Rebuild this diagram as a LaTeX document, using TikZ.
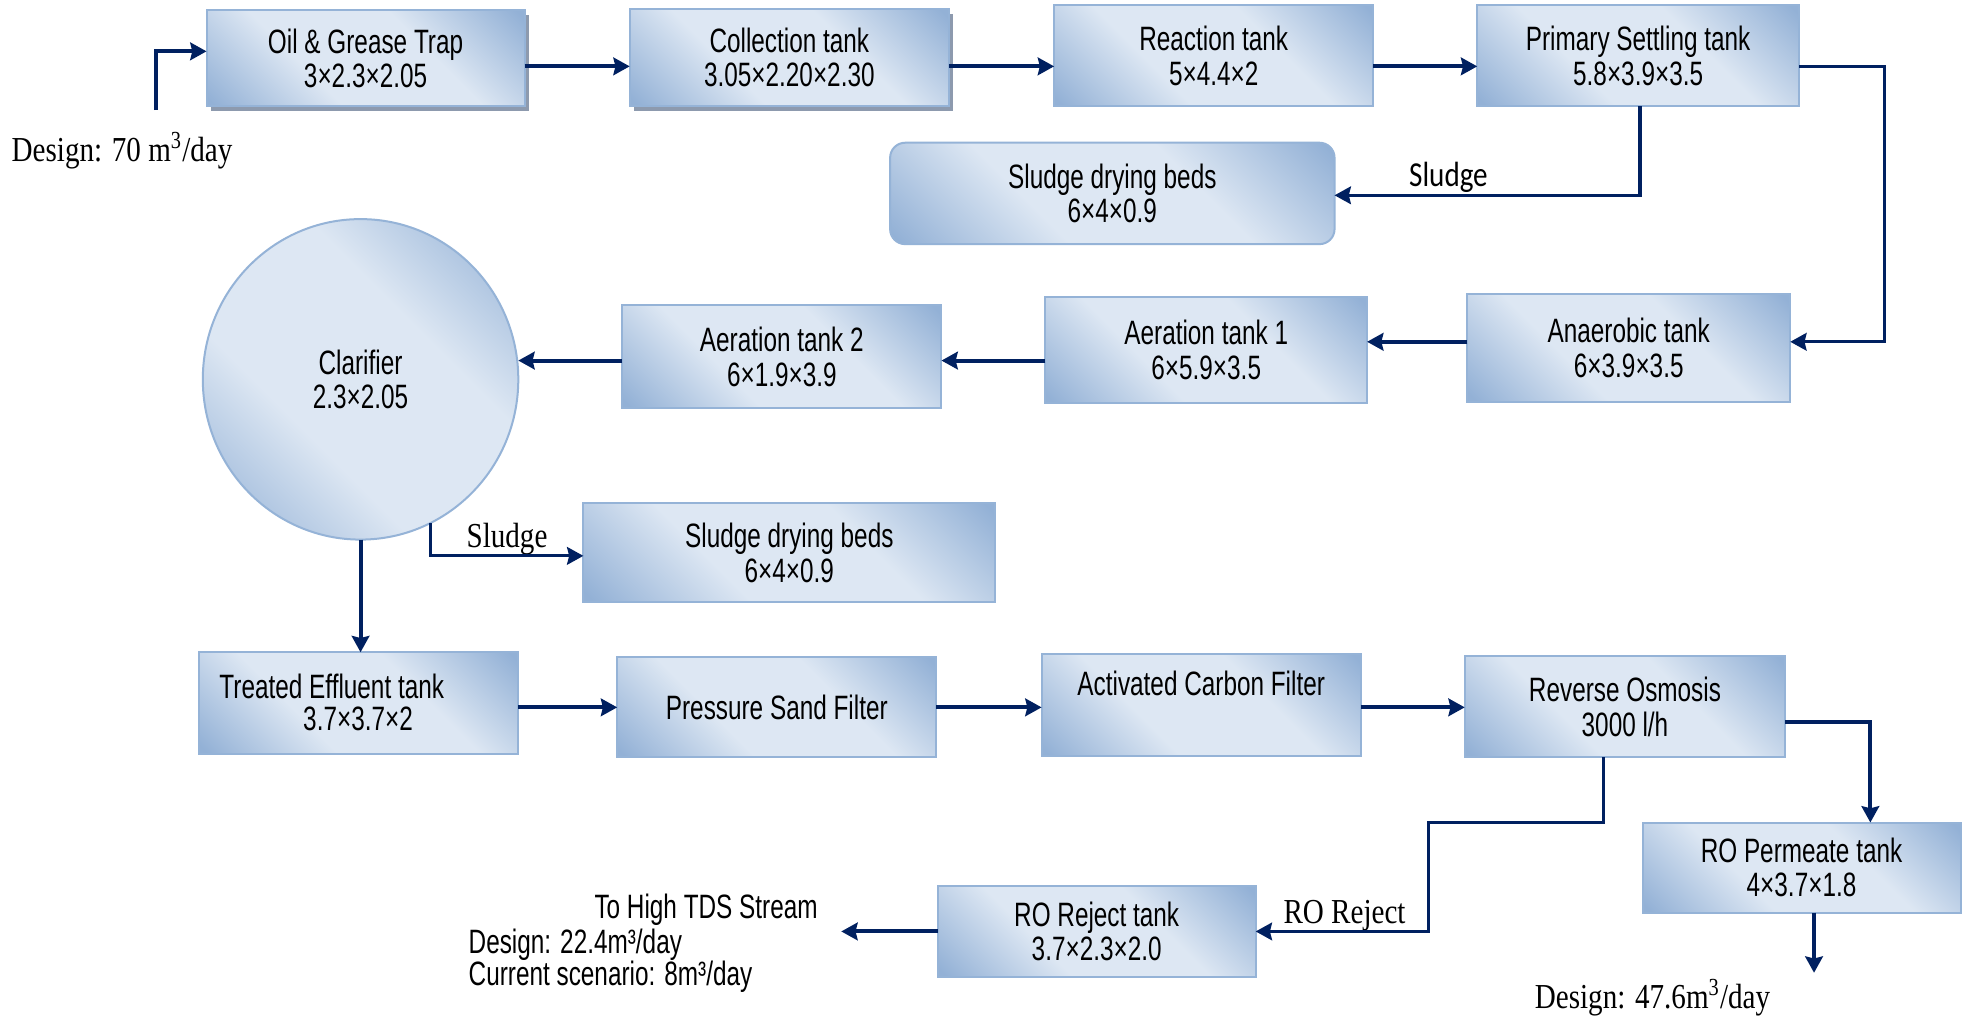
\documentclass[tikz,border=0pt]{standalone}
\usepackage{fontspec}
\newfontfamily\boxfont{Liberation Sans}[FakeStretch=0.72]
\newfontfamily\serfont{Liberation Serif}[FakeStretch=0.83]
\newfontfamily\calfont{Carlito}[FakeStretch=0.83]
\usetikzlibrary{arrows.meta,shapes.geometric,shadows,calc}
\definecolor{navy}{RGB}{0,32,96}
\definecolor{bord}{RGB}{149,179,215}
\definecolor{lightb}{RGB}{221,231,243}
\definecolor{darkb}{RGB}{147,177,214}
\definecolor{shad}{RGB}{141,154,174}
\pgfdeclareverticalshading{tankshade}{100bp}{color(0bp)=(darkb); color(16bp)=(darkb); color(38bp)=(lightb); color(62bp)=(lightb); color(84bp)=(darkb); color(100bp)=(darkb)}
\begin{document}
\begin{tikzpicture}[x=0.5pt,y=-0.5pt,
  gfill/.style={draw=bord, line width=0.8pt, shading=tankshade, shading angle=-45},
  tank/.style 2 args={gfill, minimum width=#1*0.5pt, minimum height=#2*0.5pt, inner sep=0pt, outer sep=0pt, align=center, font=\boxfont\fontsize{13.5}{13.8}\selectfont},
  shd/.style={drop shadow={shadow xshift=1.6pt, shadow yshift=-2pt, fill=shad, opacity=1}},
  txt/.style={inner sep=0pt, font=\boxfont\fontsize{13.5}{13.8}\selectfont},
  ser/.style={inner sep=0pt, font=\serfont\fontsize{14}{15}\selectfont},
  cal/.style={inner sep=0pt, font=\calfont\fontsize{14}{15}\selectfont},
  arr/.style={draw=navy, line width=1.6pt, -{Stealth[length=6.5pt,width=7pt,inset=0.8pt]}},
  arrthin/.style={draw=navy, line width=1.3pt, -{Stealth[length=6.5pt,width=7pt,inset=0.8pt]}}
]
\fill[white] (0,0) rectangle (1568,811);
\useasboundingbox (0,0) rectangle (1568,811);

% row 1
\node[tank={254}{77}, shd] (oil) at (292,46.5) {Oil \& Grease Trap\\3×2.3×2.05};
\node[tank={255}{77.5}, shd] (coll) at (630.5,46) {Collection tank\\3.05×2.20×2.30};
\node[tank={255}{81}] (react) at (969.5,44.5) {Reaction tank\\5×4.4×2};
\node[tank={257}{81}] (prim) at (1308.5,44.5) {Primary Settling tank\\5.8×3.9×3.5};
\node[tank={355}{81}, rounded corners=6pt] (sdb1) at (888.5,154.5) {Sludge drying beds\\6×4×0.9};

% row 2
\node[tank={258}{86}] (anae) at (1301,278) {Anaerobic tank\\6×3.9×3.5};
\node[tank={257}{85}] (aer1) at (963.5,279.5) {Aeration tank 1\\6×5.9×3.5};
\node[tank={255}{82}] (aer2) at (624.5,285) {Aeration tank 2\\6×1.9×3.9};
\node[gfill, ellipse, minimum width=252*0.5pt, minimum height=256*0.5pt, inner sep=0pt, outer sep=0pt, align=center, font=\boxfont\fontsize{13.5}{13.8}\selectfont] (clar) at (288,303) {Clarifier\\2.3×2.05};
\node[tank={329}{79}] (sdb2) at (630.5,441.5) {Sludge drying beds\\6×4×0.9};

% row 3
\node[tank={255}{81}] (tet) at (286.5,561.5) {};
\node[txt] (tet1) at (265,548) {Treated Effluent tank};
\node[txt] (tet2) at (286,574) {3.7×3.7×2};
\node[tank={255}{80}] (psf) at (620.5,565) {Pressure Sand Filter};
\node[tank={255}{82}] (acf) at (959.5,563) {};
\node[txt] (acf1) at (959.5,546) {Activated Carbon Filter};
\node[tank={256}{81}] (ro) at (1298,564.5) {Reverse Osmosis\\3000 l/h};

% row 4
\node[tank={254}{72}] (perm) at (1439,693) {RO Permeate tank\\4×3.7×1.8};
\node[tank={254}{72}] (rej) at (876,744) {RO Reject tank\\3.7×2.3×2.0};

% labels
\node[ser] (d0) at (97.5,120) {Design: 70 m\textsuperscript{3}/day};
\node[cal] (sl1) at (1157,142) {Sludge};
\node[ser] (sl2) at (405,431) {Sludge};
\node[ser] (rorej) at (1074,731) {RO Reject};
\node[txt] (tds) at (564,727) {To High TDS Stream};
\node[txt, anchor=west] (dd1) at (374,755) {Design: 22.4m³/day};
\node[txt, anchor=west] (dd2) at (374,780) {Current scenario: 8m³/day};
\node[ser] (d3) at (1320,797) {Design: 47.6m\textsuperscript{3}/day};

% connectors
\coordinate (in0) at (125,88);
\draw[arr] (in0) |- (oil.west |- 0,41);
\draw[arr] (oil.east |- 0,53) -- (coll.west |- 0,53);
\draw[arr] (coll.east |- 0,53) -- (react.west |- 0,53);
\draw[arr] (react.east |- 0,53) -- (prim.west |- 0,53);
\coordinate (r1) at (1505,53);
\draw[arrthin] (prim.east |- 0,53) -- (r1) |- (anae.east |- 0,273);
\draw[arrthin] (prim.south -| 1310,0) |- (sdb1.east |- 0,156);
\draw[arr] (anae.west |- 0,273) -- (aer1.east |- 0,273);
\draw[arr] (aer1.west |- 0,288) -- (aer2.east |- 0,288);
\draw[arr] (aer2.west |- 0,288) -- (clar.east |- 0,288);
\draw[arrthin] (clar.-64.4) |- (sdb2.west |- 0,444);
\draw[arr] (clar.south) -- (tet.north -| clar.south);
\draw[arr] (tet.east |- 0,565) -- (psf.west |- 0,565);
\draw[arr] (psf.east |- 0,565) -- (acf.west |- 0,565);
\draw[arr] (acf.east |- 0,565) -- (ro.west |- 0,565);
\draw[arr] (ro.east |- 0,577) -| (perm.north -| 1494,0);
\coordinate (k1) at (1281,657);
\coordinate (k2) at (1141,657);
\draw[arrthin] (ro.south -| k1) -- (k1) -- (k2) |- (rej.east);
\coordinate (out1) at (672,744);
\draw[arr] (rej.west) -- (out1);
\coordinate (out2) at (1449,777);
\draw[arr] (perm.south -| out2) -- (out2);
\end{tikzpicture}
\end{document}
